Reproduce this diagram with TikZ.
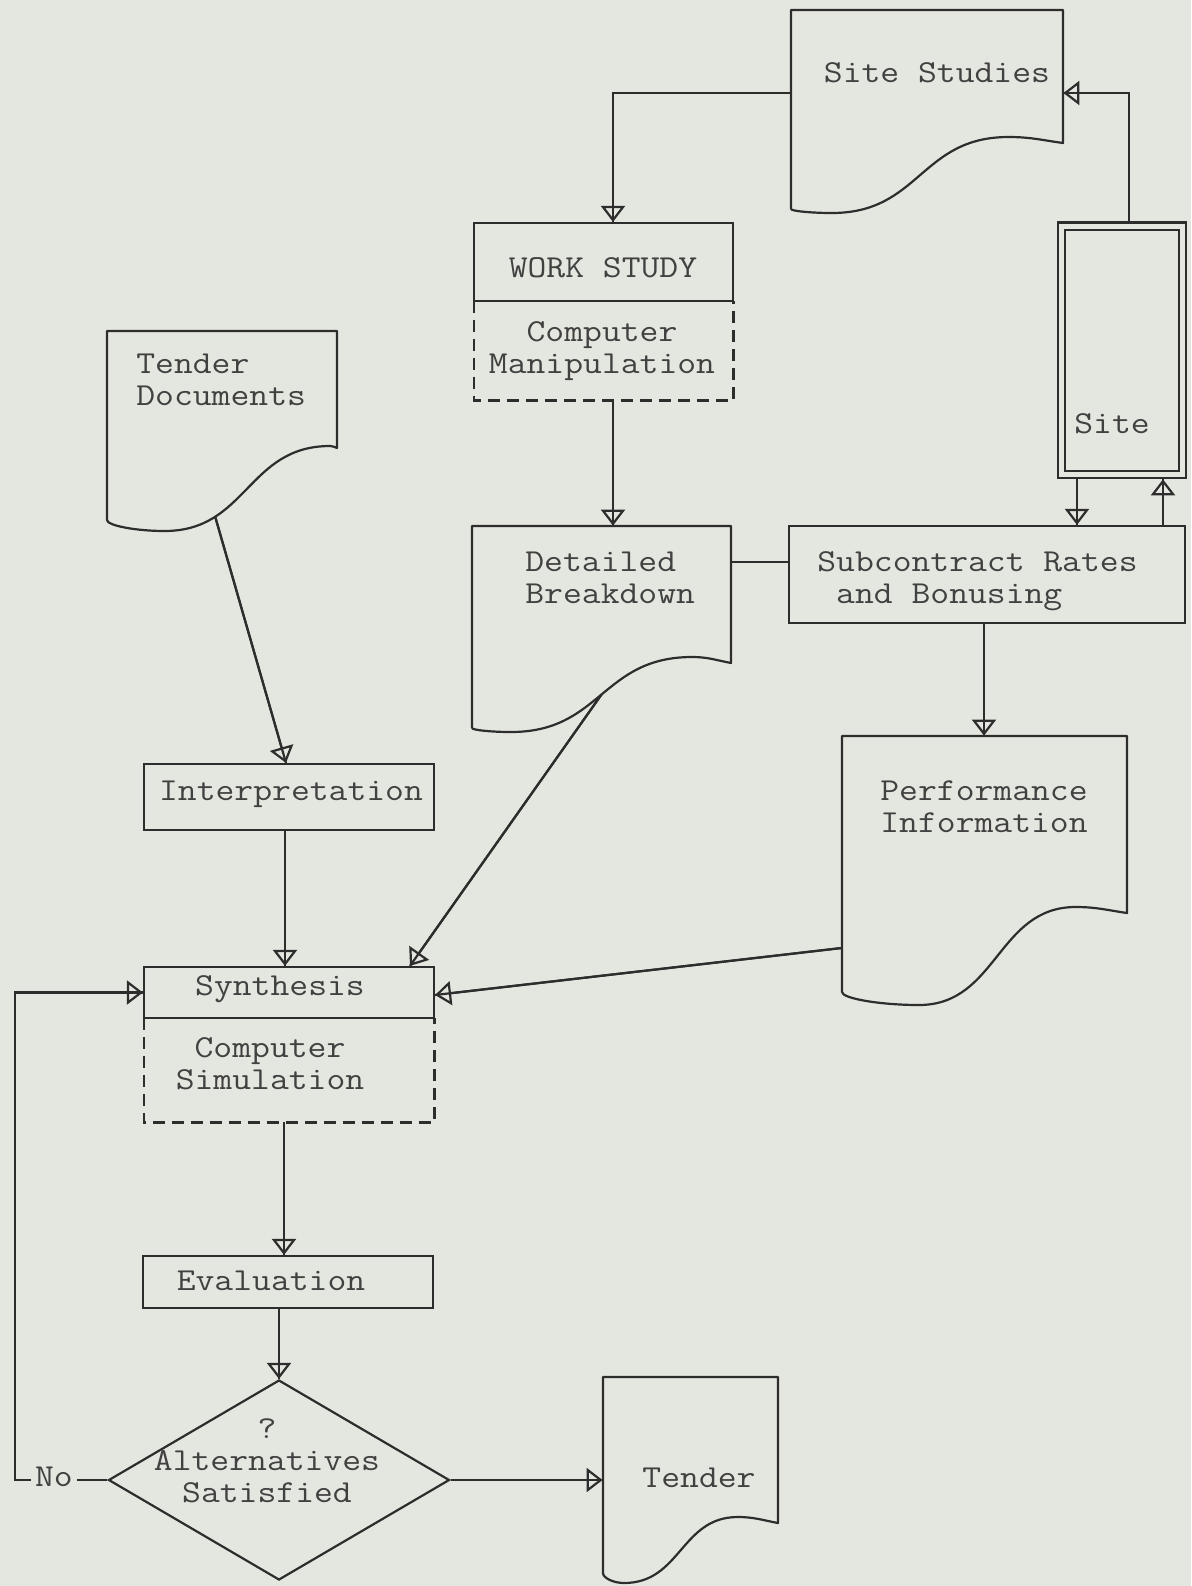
\documentclass[tikz,border=0pt]{standalone}
\usepackage{fontspec}
\newfontfamily\typefont[FakeStretch=1.143]{Latin Modern Mono}
\usetikzlibrary{arrows.meta,shapes.geometric,fit}

\definecolor{paper}{RGB}{228,231,223}
\definecolor{ink}{RGB}{45,45,45}
\definecolor{typeink}{RGB}{65,65,65}

\tikzset{
  docdip/.store in=\docdip,
  docrise/.store in=\docrise,
  docpos/.store in=\docpos,
}

% Document symbol: flat top, wavy bottom edge.
% #1 name, #2 left, #3 top, #4 right, #5 bottom of right side,
% #6 bottom of left side, #7/#8 trough/crest position as fraction of width,
% #9 extra keys (docdip, docrise, docpos for the point #1-c on the wave)
\newcommand\docshape[9]{%
  \tikzset{docdip=8,docrise=6,docpos=0.5,#9}%
  \node[fit={(#2,#3) (#4,#6)}] (#1) {};
  \pgfmathsetmacro\dw{#4-#2}%
  \pgfmathsetmacro\dmaxx{#2+#8*\dw}%
  \pgfmathsetmacro\dminx{#2+#7*\dw}%
  \pgfmathsetmacro\dmid{(\dmaxx+\dminx)/2}%
  \pgfmathsetmacro\dtop{#5-\docrise}%
  \pgfmathsetmacro\dbot{#6+\docdip}%
  \pgfmathsetmacro\dra{#4-0.4*(#4-\dmaxx)}%
  \pgfmathsetmacro\drb{#5-0.5*\docrise}%
  \pgfmathsetmacro\drc{\dmaxx+0.4*(#4-\dmaxx)}%
  \pgfmathsetmacro\dla{\dminx-0.5*(\dminx-#2)}%
  \pgfmathsetmacro\dlb{#6+0.5*\docdip}%
  \draw[link, line join=round] (#2,#6) -- (#2,#3) -- (#4,#3) -- (#4,#5)
    .. controls (\dra,\drb) and (\drc,\dtop) .. (\dmaxx,\dtop)
    .. controls (\dmid,\dtop) and (\dmid,\dbot) .. (\dminx,\dbot)
    .. controls (\dla,\dbot) and (#2,\dlb) .. (#2,#6);
  \path (\dmaxx,\dtop) .. controls (\dmid,\dtop) and (\dmid,\dbot) .. (\dminx,\dbot)
    coordinate[pos=\docpos] (#1-c);
}

\begin{document}
\begin{tikzpicture}[x=0.5pt,y=-0.5pt,
  every node/.style={inner sep=0pt},
  txt/.style={text=typeink, font=\typefont\fontsize{16pt}{16pt}\selectfont,
    execute at begin node=\strut},
  link/.style={draw=ink, line width=1.1pt},
  box/.style={link},
  dashline/.style={draw=ink, line width=1.1pt, dash pattern=on 6pt off 3.5pt},
  flow/.style={link,
    -{Triangle[open,length=8pt,width=12pt,line width=1.1pt]},
    postaction={draw=ink, line width=1.1pt, -}},
]
\useasboundingbox (0,0) rectangle (1191,1586);
\fill[paper] (0,0) rectangle (1191,1586);

% ---- documents
\docshape{sitestudies}{791}{10}{1063}{143}{209}{0.15}{0.80}{docdip=4}
\docshape{tenderdocs}{107}{331}{337}{448}{520}{0.25}{0.97}{docdip=11,docrise=2,docpos=0.74}
\docshape{detailed}{472}{526}{731}{663}{728}{0.15}{0.85}{docdip=4}
\docshape{perf}{842}{736}{1127}{913}{992}{0.27}{0.82}{docdip=13}
\docshape{tender}{603}{1377}{778}{1523}{1573}{0.12}{0.77}{docdip=10}

% ---- process boxes
\node[box, fit={(474,223) (733,301)}] (workstudy) {};
\node[fit={(474,301) (733,400)}] (manip) {};
\draw[dashline] (manip.north west) -- (manip.south west) -- (manip.south east) -- (manip.north east);
\node[box, fit={(789,526) (1185,623)}] (subcontract) {};
\node[box, fit={(144,764) (434,830)}] (interp) {};
\node[box, fit={(144,967) (434,1018)}] (synth) {};
\node[fit={(144,1018) (434,1122)}] (sim) {};
\draw[dashline] (sim.north west) -- (sim.south west) -- (sim.south east) -- (sim.north east);
\node[box, fit={(143,1256) (433,1308)}] (eval) {};
\node[box, double=paper, double distance=2.5pt, outer sep=2.4pt,
  fit={(1061.5,226) (1182.5,474.5)}] (site) {};
\node[box, diamond, minimum width=170.5pt, minimum height=100pt] (check) at (279,1480) {};

% ---- texts
\node[txt] (sitestudies-t) at (937,75.6) {Site Studies};
\node[txt] (site-t) at (1112,426.6) {Site};
\node[txt] (workstudy-t) at (603,270.6) {WORK STUDY};
\node[txt, align=center] (manip-t) at (602,352.6) {Computer\\\strut Manipulation};
\node[txt, align=left, anchor=west] (detailed-t) at (525,582.6) {Detailed\\\strut Breakdown};
\node[txt, align=left, anchor=west] (subcontract-t) at (817,582.6) {Subcontract Rates\\\strut~and Bonusing};
\node[txt, align=center] (perf-t) at (984,811.6) {Performance\\\strut Information};
\node[txt, align=left, anchor=west] (tenderdocs-t) at (136,384.6) {Tender\\\strut Documents};
\node[txt] (interp-t) at (291,793.6) {Interpretation};
\node[txt] (synth-t) at (280,988.6) {Synthesis};
\node[txt, align=center] (sim-t) at (270,1068) {Computer\\\strut Simulation};
\node[txt] (eval-t) at (271,1283.6) {Evaluation};
\node[txt, align=center] (check-t) at (267,1465.6) {?\\\strut Alternatives\\\strut Satisfied};
\node[txt, inner xsep=2pt] (no) at (54,1480) {No};
\node[txt] (tender-t) at (699,1480.6) {Tender};

% ---- connectors
\draw[flow] (site.north -| 1129,0) |- (sitestudies.east |- 0,93);
\draw[flow] (sitestudies.west |- 0,93) -| (workstudy.north -| 613,0);
\draw[flow] (manip.south -| 613,0) -- (detailed.north -| 613,0);
\draw[link] (detailed.east |- 0,562) -- (subcontract.west |- 0,562);
\draw[flow] (site.south -| 1077,0) -- (subcontract.north -| 1077,0);
\draw[flow] (subcontract.north -| 1163,0) -- (site.south -| 1163,0);
\draw[flow] (subcontract.south -| 984,0) -- (perf.north -| 984,0);
\draw[flow] (perf.west |- 0,948) -- (synth.east |- 0,995);
\draw[flow] (detailed-c) -- (synth.north -| 410,0);
\draw[flow] (tenderdocs-c) -- (interp.north -| 286,0);
\draw[flow] (interp.south -| 285,0) -- (synth.north -| 285,0);
\draw[flow] (sim.south -| 284,0) -- (eval.north -| 284,0);
\draw[flow] (eval.south -| check.north) -- (check.north);
\draw[flow] (check.east) -- (tender.west |- check.east);
\draw[link] (check.west) -- (no.east);
\draw[flow] (no.west) -- (no.west -| 15,0) |- (synth.west);
\end{tikzpicture}
\end{document}
